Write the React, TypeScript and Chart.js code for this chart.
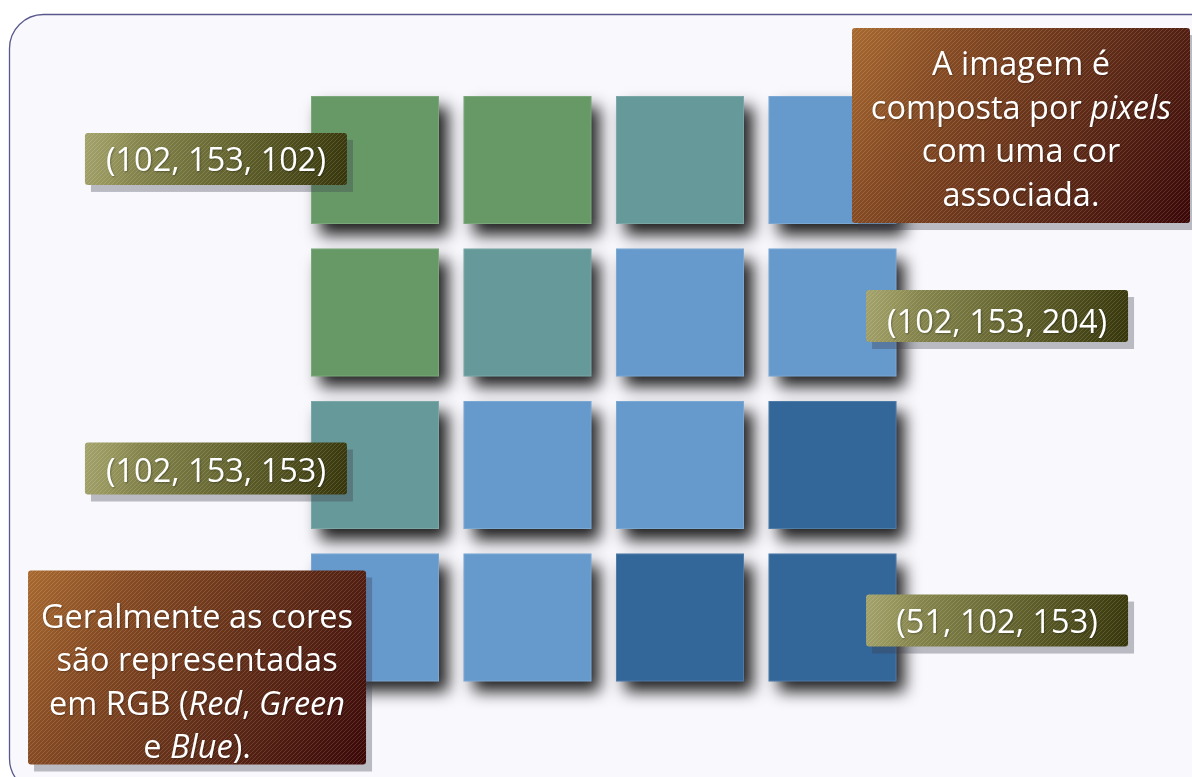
import React, { useEffect, useRef } from "react";
import { Chart, registerables } from "chart.js";

Chart.register(...registerables);

// ---------- DATA ----------
// palette of pixel colours (R, G, B)
const PALETTE_RGB: [number, number, number][] = [
  [102, 153, 102],
  [102, 153, 153],
  [102, 153, 204],
  [51, 102, 153],
];
const GRID_ROWS = [0, 1, 2, 3];
const GRID_COLS = [0, 1, 2, 3];
// palette index of every pixel, row by row
const GRID_COLOR_INDEX = [
  [0, 0, 1, 2],
  [0, 1, 2, 2],
  [1, 2, 2, 3],
  [2, 2, 3, 3],
];
// which palette colour each RGB label shows
const RGB_LABEL_COLORS = [0, 2, 1, 3];

type Seg = { t: string; i?: boolean };
const NOTE_PIXELS: Seg[][] = [
  [{ t: "A imagem é" }],
  [{ t: "composta por " }, { t: "pixels", i: true }],
  [{ t: "com uma cor" }],
  [{ t: "associada." }],
];
const NOTE_RGB: Seg[][] = [
  [{ t: "Geralmente as cores" }],
  [{ t: "são representadas" }],
  [{ t: "em RGB (" }, { t: "Red", i: true }, { t: ", " }, { t: "Green", i: true }],
  [{ t: "e " }, { t: "Blue", i: true }, { t: ")." }],
];

// ---------- LAYOUT (grid units, styles) ----------
// chart area is inset by the point radius (Chart.js point overflow padding)
const X_MIN = -1.8656;
const X_MAX = 4.7639;
const Y_MIN = -0.4557;
const Y_MAX = 3.4525;
const SQUARE_RADIUS = 90.5;

const LABEL_LAYOUT = [
  { cx: -1.043, cy: -0.007, w: 262, h: 52, base: 38.5 },
  { cx: 4.079, cy: 1.023, w: 262, h: 52, base: 43 },
  { cx: -1.043, cy: 2.023, w: 262, h: 52, base: 39.5 },
  { cx: 4.079, cy: 3.02, w: 262, h: 52, base: 38.5 },
];
const NOTE_LAYOUT = [
  { cx: 4.236, cy: -0.226, w: 338, h: 195, base: 47 },
  { cx: -1.167, cy: 3.328, w: 338, h: 194, base: 57 },
];

const FONT_FAMILY = '"Open Sans", "Noto Sans", sans-serif';
const FONT_SIZE = 32.5;
const LINE_HEIGHT = 43.5;

const rgbStr = (c: number[], a = 1) => `rgba(${c[0]},${c[1]},${c[2]},${a})`;

function rr(ctx: CanvasRenderingContext2D, x: number, y: number, w: number, h: number, r: number) {
  ctx.beginPath();
  ctx.moveTo(x + r, y);
  ctx.lineTo(x + w - r, y);
  ctx.arcTo(x + w, y, x + w, y + r, r);
  ctx.lineTo(x + w, y + h - r);
  ctx.arcTo(x + w, y + h, x + w - r, y + h, r);
  ctx.lineTo(x + r, y + h);
  ctx.arcTo(x, y + h, x, y + h - r, r);
  ctx.lineTo(x, y + r);
  ctx.arcTo(x, y, x + r, y, r);
  ctx.closePath();
}

let hatchCanvas: HTMLCanvasElement | null = null;
function hatch(ctx: CanvasRenderingContext2D) {
  if (!hatchCanvas) {
    hatchCanvas = document.createElement("canvas");
    hatchCanvas.width = 4;
    hatchCanvas.height = 4;
    const h = hatchCanvas.getContext("2d")!;
    h.strokeStyle = "rgba(255,255,255,0.14)";
    h.lineWidth = 1;
    h.beginPath();
    h.moveTo(-1, 5);
    h.lineTo(5, -1);
    h.stroke();
  }
  return ctx.createPattern(hatchCanvas, "repeat")!;
}

function drawLines(ctx: CanvasRenderingContext2D, lines: Seg[][], cx: number, firstBase: number) {
  ctx.fillStyle = "#ffffff";
  ctx.textBaseline = "alphabetic";
  ctx.textAlign = "left";
  ctx.shadowColor = "rgba(0,0,0,0.3)";
  ctx.shadowBlur = 2;
  ctx.shadowOffsetX = 1;
  ctx.shadowOffsetY = 1;
  lines.forEach((line, li) => {
    const fonts = line.map((s) => `${s.i ? "italic " : ""}${FONT_SIZE}px ${FONT_FAMILY}`);
    let total = 0;
    const widths = line.map((s, k) => {
      ctx.font = fonts[k];
      const w = ctx.measureText(s.t).width;
      total += w;
      return w;
    });
    let x = cx - total / 2;
    const y = firstBase + li * LINE_HEIGHT;
    line.forEach((s, k) => {
      ctx.font = fonts[k];
      ctx.fillText(s.t, x, y);
      x += widths[k];
    });
  });
  ctx.shadowColor = "transparent";
  ctx.shadowBlur = 0;
  ctx.shadowOffsetX = 0;
  ctx.shadowOffsetY = 0;
}

function drawBox(
  ctx: CanvasRenderingContext2D,
  px: number,
  py: number,
  w: number,
  h: number,
  stops: [number, string][]
) {
  const x = px - w / 2;
  const y = py - h / 2;
  ctx.fillStyle = "rgba(60,60,75,0.33)";
  ctx.fillRect(x + 6, y + 7, w, h);
  const g = ctx.createLinearGradient(x, y, x + w, y + h);
  stops.forEach(([o, c]) => g.addColorStop(o, c));
  rr(ctx, x, y, w, h, 3);
  ctx.fillStyle = g;
  ctx.fill();
  ctx.fillStyle = hatch(ctx);
  ctx.fill();
  return { x, y };
}

const OLIVE: any = [
  [0, "#a3a36c"],
  [0.12, "#94945b"],
  [0.2, "#85854d"],
  [0.6, "#5f5f2b"],
  [1, "#35350a"],
];
const BROWN: any = [
  [0, "#a8692f"],
  [0.25, "#854a22"],
  [0.6, "#602c17"],
  [1, "#3a0707"],
];

const framePlugin = {
  id: "frame",
  beforeDraw(chart: any) {
    const ctx: CanvasRenderingContext2D = chart.ctx;
    ctx.save();
    ctx.fillStyle = "#ffffff";
    ctx.fillRect(0, 0, chart.width, chart.height);
    rr(ctx, 9.5, 14.5, 1230, 778, 34);
    ctx.fillStyle = "#f8f8fd";
    ctx.fill();
    ctx.strokeStyle = "#58588c";
    ctx.lineWidth = 1.3;
    ctx.stroke();
    ctx.restore();
  },
};

const shadowPlugin = {
  id: "squareShadow",
  beforeDatasetDraw(chart: any) {
    const ctx: CanvasRenderingContext2D = chart.ctx;
    ctx.save();
    ctx.shadowColor = "rgba(0,0,0,0.88)";
    ctx.shadowBlur = 15;
    ctx.shadowOffsetX = 9;
    ctx.shadowOffsetY = 11;
  },
  afterDatasetDraw(chart: any) {
    chart.ctx.restore();
  },
};

const calloutPlugin = {
  id: "callouts",
  afterDatasetsDraw(chart: any) {
    const ctx: CanvasRenderingContext2D = chart.ctx;
    const xs = chart.scales.x;
    const ys = chart.scales.y;
    ctx.save();
    // thin light edge of every pixel square
    const meta = chart.getDatasetMeta(0);
    const half = (SQUARE_RADIUS * Math.SQRT2) / 2;
    ctx.strokeStyle = "rgba(255,255,255,0.14)";
    ctx.lineWidth = 1;
    meta.data.forEach((el: any) => {
      ctx.strokeRect(el.x - half + 0.5, el.y - half + 0.5, half * 2 - 1, half * 2 - 1);
    });
    // RGB labels
    LABEL_LAYOUT.forEach((L, i) => {
      const c = PALETTE_RGB[RGB_LABEL_COLORS[i]];
      const px = xs.getPixelForValue(L.cx);
      const py = ys.getPixelForValue(L.cy);
      const { y } = drawBox(ctx, px, py, L.w, L.h, OLIVE);
      drawLines(ctx, [[{ t: `(${c[0]}, ${c[1]}, ${c[2]})` }]], px, y + L.base);
    });
    // notes
    [NOTE_PIXELS, NOTE_RGB].forEach((lines, i) => {
      const L = NOTE_LAYOUT[i];
      const px = xs.getPixelForValue(L.cx);
      const py = ys.getPixelForValue(L.cy);
      const { y } = drawBox(ctx, px, py, L.w, L.h, BROWN);
      drawLines(ctx, lines, px, y + L.base);
    });
    ctx.restore();
  },
};

export default function App() {
  const ref = useRef<HTMLCanvasElement>(null);
  useEffect(() => {
    document.body.style.margin = "0";
    const canvas = ref.current!;
    const points: { x: number; y: number; k: number }[] = [];
    GRID_ROWS.forEach((r) =>
      GRID_COLS.forEach((c) => points.push({ x: c, y: r, k: GRID_COLOR_INDEX[r][c] }))
    );
    const colors = points.map((p) => rgbStr(PALETTE_RGB[p.k]));
    const chart = new Chart(canvas, {
      type: "scatter",
      data: {
        datasets: [
          {
            data: points,
            backgroundColor: colors,
            borderColor: colors,
            borderWidth: 0,
            pointStyle: "rect",
            pointRadius: SQUARE_RADIUS,
            pointHoverRadius: SQUARE_RADIUS,
            clip: false,
          } as any,
        ],
      },
      options: {
        responsive: false,
        animation: false,
        events: [],
        devicePixelRatio: 1,
        layout: { padding: 0 },
        plugins: { legend: { display: false }, tooltip: { enabled: false } },
        scales: {
          x: { type: "linear", display: false, min: X_MIN, max: X_MAX },
          y: { type: "linear", display: false, reverse: true, min: Y_MIN, max: Y_MAX },
        },
      },
      plugins: [framePlugin, shadowPlugin, calloutPlugin],
    });
    return () => chart.destroy();
  }, []);
  return (
    <div style={{ position: "absolute", left: 0, top: 0, width: 1192, height: 777 }}>
      <canvas ref={ref} width={1192} height={777} style={{ display: "block" }} />
    </div>
  );
}
